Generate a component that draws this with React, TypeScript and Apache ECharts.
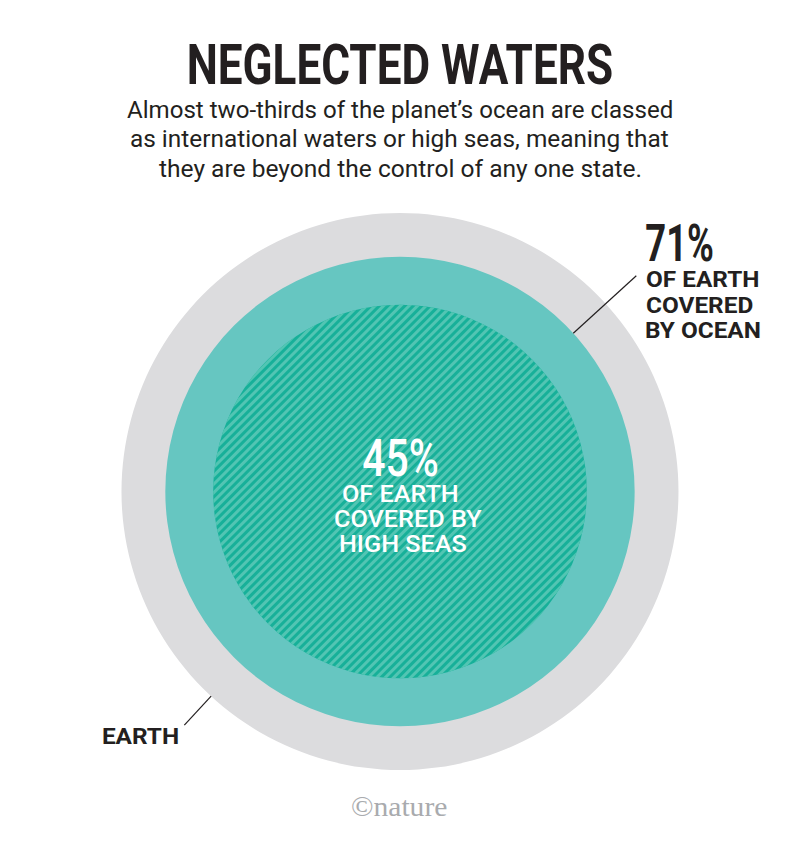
import React, { useEffect, useRef } from "react";
import * as echarts from "echarts";

const categories = ["Earth", "Ocean", "High seas"];
const shares = [100, 71, 45];
const fills = ["#dcdcde", "#66c6c1", "#17b099"];
const titleText = "NEGLECTED WATERS";
const subtitleLines = [
  "Almost two-thirds of the planet\u2019s ocean are classed",
  "as international waters or high seas, meaning that",
  "they are beyond the control of any one state.",
];
const oceanLabel = ["71%", "OF EARTH", "COVERED", "BY OCEAN"];
const seasLabel = ["45%", "OF EARTH", "COVERED BY", "HIGH SEAS"];
const earthLabel = "EARTH";

const CX = 400;
const CY = 491.5;
const R = 278.5;

let measureCtx: CanvasRenderingContext2D | null = null;
function ink(text: string, font: string) {
  if (!measureCtx) measureCtx = document.createElement("canvas").getContext("2d");
  const ctx = measureCtx!;
  ctx.font = font;
  const m = ctx.measureText(text);
  return { left: m.actualBoundingBoxLeft, width: m.actualBoundingBoxLeft + m.actualBoundingBoxRight };
}

function fitText(
  text: string,
  left: number,
  width: number,
  cy: number,
  size: number,
  weight: string | number,
  family: string,
  color: string,
  scaleOverride?: number
) {
  const font = `${weight} ${size}px ${family}`;
  const m = ink(text, font);
  const s = scaleOverride ?? width / m.width;
  return {
    type: "text",
    x: left + m.left * s,
    y: cy,
    scaleX: s,
    silent: true,
    style: {
      text,
      x: 0,
      y: 0,
      fill: color,
      font,
      align: "left",
      verticalAlign: "middle",
    },
  };
}

export default function App() {
  const ref = useRef<HTMLDivElement>(null);
  useEffect(() => {
    document.body.style.margin = "0";
    const chart = echarts.init(ref.current!, null, { renderer: "svg" });
    const radii = shares.map((v) => R * Math.sqrt(v / 100));

    const series = shares.map((v, i) => ({
      type: "pie",
      silent: true,
      z: i + 1,
      center: [CX, CY],
      radius: [0, radii[i]],
      label: { show: false },
      labelLine: { show: false },
      data: [
        {
          name: categories[i],
          value: v,
          itemStyle:
            i === 2
              ? {
                  color: fills[i],
                  decal: {
                    symbol: "rect",
                    symbolSize: 1,
                    dashArrayX: [1, 0],
                    dashArrayY: [3, 3],
                    rotation: -Math.PI / 4,
                    color: "#52c5b3",
                  },
                }
              : { color: fills[i] },
        },
      ],
    }));

    const dark = "#231f20";
    const fam = "Roboto, 'DejaVu Sans', sans-serif";

    // leader lines computed from circle geometry
    const a1 = (-42.4 * Math.PI) / 180;
    const a2 = (132.7 * Math.PI) / 180;
    const line1 = {
      type: "line",
      silent: true,
      shape: {
        x1: CX + radii[1] * Math.cos(a1),
        y1: CY + radii[1] * Math.sin(a1),
        x2: CX + 320 * Math.cos(a1),
        y2: CY + 320 * Math.sin(a1),
      },
      style: { stroke: dark, lineWidth: 1.2 },
    };
    const line2 = {
      type: "line",
      silent: true,
      shape: {
        x1: CX + radii[0] * Math.cos(a2),
        y1: CY + radii[0] * Math.sin(a2),
        x2: CX + 318 * Math.cos(a2),
        y2: CY + 318 * Math.sin(a2),
      },
      style: { stroke: dark, lineWidth: 1.2 },
    };

    const outerScale = 113 / ink(oceanLabel[1], `bold 22px ${fam}`).width;
    const innerScale = 114 / ink(seasLabel[1], `500 23.5px ${fam}`).width;

    const graphics: any[] = [
      fitText(titleText, 189, 423, 65, 56, "bold", fam, dark),
      fitText(subtitleLines[0], 127, 545, 110.5, 24, "normal", fam, dark),
      fitText(subtitleLines[1], 131, 538, 139.5, 24, "normal", fam, dark),
      fitText(subtitleLines[2], 159, 482, 168.5, 24, "normal", fam, dark),
      fitText(oceanLabel[0], 646, 67, 243.5, 52, "bold", fam, dark),
      fitText(oceanLabel[1], 646, 113, 279.5, 22, "bold", fam, dark, outerScale),
      fitText(oceanLabel[2], 646, 111, 305, 22, "bold", fam, dark, outerScale),
      fitText(oceanLabel[3], 646, 117, 330.5, 22, "bold", fam, dark, outerScale),
      fitText(earthLabel, 103, 78, 736.5, 22, "bold", fam, dark, outerScale),
      fitText(seasLabel[0], 363, 74, 458.5, 52, 500, fam, "#ffffff"),
      fitText(seasLabel[1], 343, 114, 494, 23.5, 500, fam, "#ffffff", innerScale),
      fitText(seasLabel[2], 335, 132, 518.5, 23.5, 500, fam, "#ffffff", innerScale),
      fitText(seasLabel[3], 340, 119, 543.5, 23.5, 500, fam, "#ffffff", innerScale),
      fitText("\u00a9nature", 352, 95, 806, 28, "normal", "'Liberation Serif', 'DejaVu Serif', serif", "#a9abae"),
      line1,
      line2,
    ].map((g) => ({ ...g, z: 20 }));

    chart.setOption({
      animation: false,
      backgroundColor: "#ffffff",
      series,
      graphic: { elements: graphics },
    });
    return () => chart.dispose();
  }, []);
  return <div ref={ref} style={{ width: 800, height: 856 }} />;
}
